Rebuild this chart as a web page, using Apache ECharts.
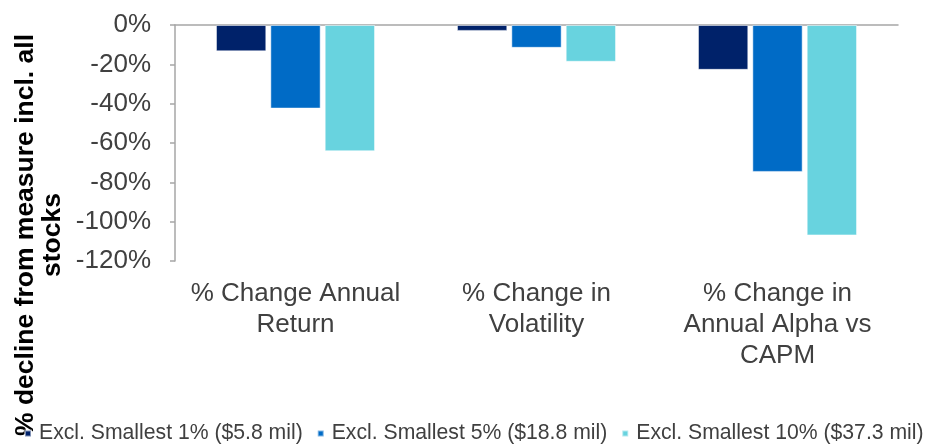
<!DOCTYPE html>
<html>
<head>
<meta charset="utf-8">
<script src="https://cdn.jsdelivr.net/npm/echarts@6/dist/echarts.min.js"></script>
<style>
  html, body { margin: 0; padding: 0; background: #fff; }
  #chart { width: 927px; height: 444px; }
</style>
</head>
<body>
<div id="chart"></div>
<script>
const categories = ['% Change Annual\nReturn', '% Change in\nVolatility', '% Change in\nAnnual Alpha vs\nCAPM']
const seriesNames = ['Excl. Smallest 1% ($5.8 mil)', 'Excl. Smallest 5% ($18.8 mil)', 'Excl. Smallest 10% ($37.3 mil)']
const excl1 = [-13.4, -3, -22.8]
const excl5 = [-42.5, -11.6, -74.7]
const excl10 = [-64.2, -18.7, -107]
const colors = ['#00226A', '#006BC6', '#68D3DF']

const font = 'Arial, "Liberation Sans", sans-serif'
const axisGray = '#A6A6A6'

const chart = echarts.init(document.getElementById('chart'))

const bar = (name, data, i) => ({
    name: name,
    type: 'bar',
    xAxisIndex: 0,
    data: data,
    barGap: '8%',
    barCategoryGap: '34%',
    itemStyle: { color: colors[i], borderColor: 'rgba(255,255,255,0.5)', borderWidth: 1 }
})

chart.setOption({
    animation: false,
    textStyle: { fontFamily: font },
    grid: { left: 175, right: 29, top: 25, bottom: 183 },
    legend: {
        left: 19,
        width: 1000,
        top: 418,
        itemWidth: 6,
        itemHeight: 6,
        itemGap: 14,
        icon: 'rect',
        textStyle: { fontSize: 21.2, color: '#404040', fontFamily: font, padding: [0, 0, 0, 3] },
        data: seriesNames
    },
    xAxis: [{
        type: 'category',
        position: 'bottom',
        data: categories,
        axisLine: { show: false, onZero: false },
        axisTick: { show: false },
        axisLabel: { interval: 0, fontSize: 26, lineHeight: 31, color: '#404040', margin: 17, fontFamily: font }
    }, {
        type: 'category',
        position: 'top',
        data: categories,
        axisLine: { lineStyle: { color: axisGray, width: 1.5 } },
        axisTick: { inside: true, length: 8, lineStyle: { color: axisGray, width: 1.5 } },
        axisLabel: { show: false }
    }],
    yAxis: {
        type: 'value',
        min: -120,
        max: 0,
        interval: 20,
        axisLine: { show: true, lineStyle: { color: axisGray, width: 1.5 } },
        axisTick: { show: true, length: 5, lineStyle: { color: axisGray, width: 1.5 } },
        splitLine: { show: false },
        axisLabel: { formatter: '{value}%', fontSize: 26, color: '#404040', margin: 24, fontFamily: font }
    },
    graphic: [{
        type: 'text',
        x: 39,
        y: 235,
        rotation: Math.PI / 2,
        style: {
            text: '% decline from measure incl. all\nstocks',
            font: 'bold 26.5px Arial, "Liberation Sans", sans-serif',
            fill: '#000',
            align: 'center',
            verticalAlign: 'middle',
            lineHeight: 27
        }
    }],
    series: [
        bar(seriesNames[0], excl1, 0),
        bar(seriesNames[1], excl5, 1),
        bar(seriesNames[2], excl10, 2)
    ]
})
</script>
</body>
</html>
